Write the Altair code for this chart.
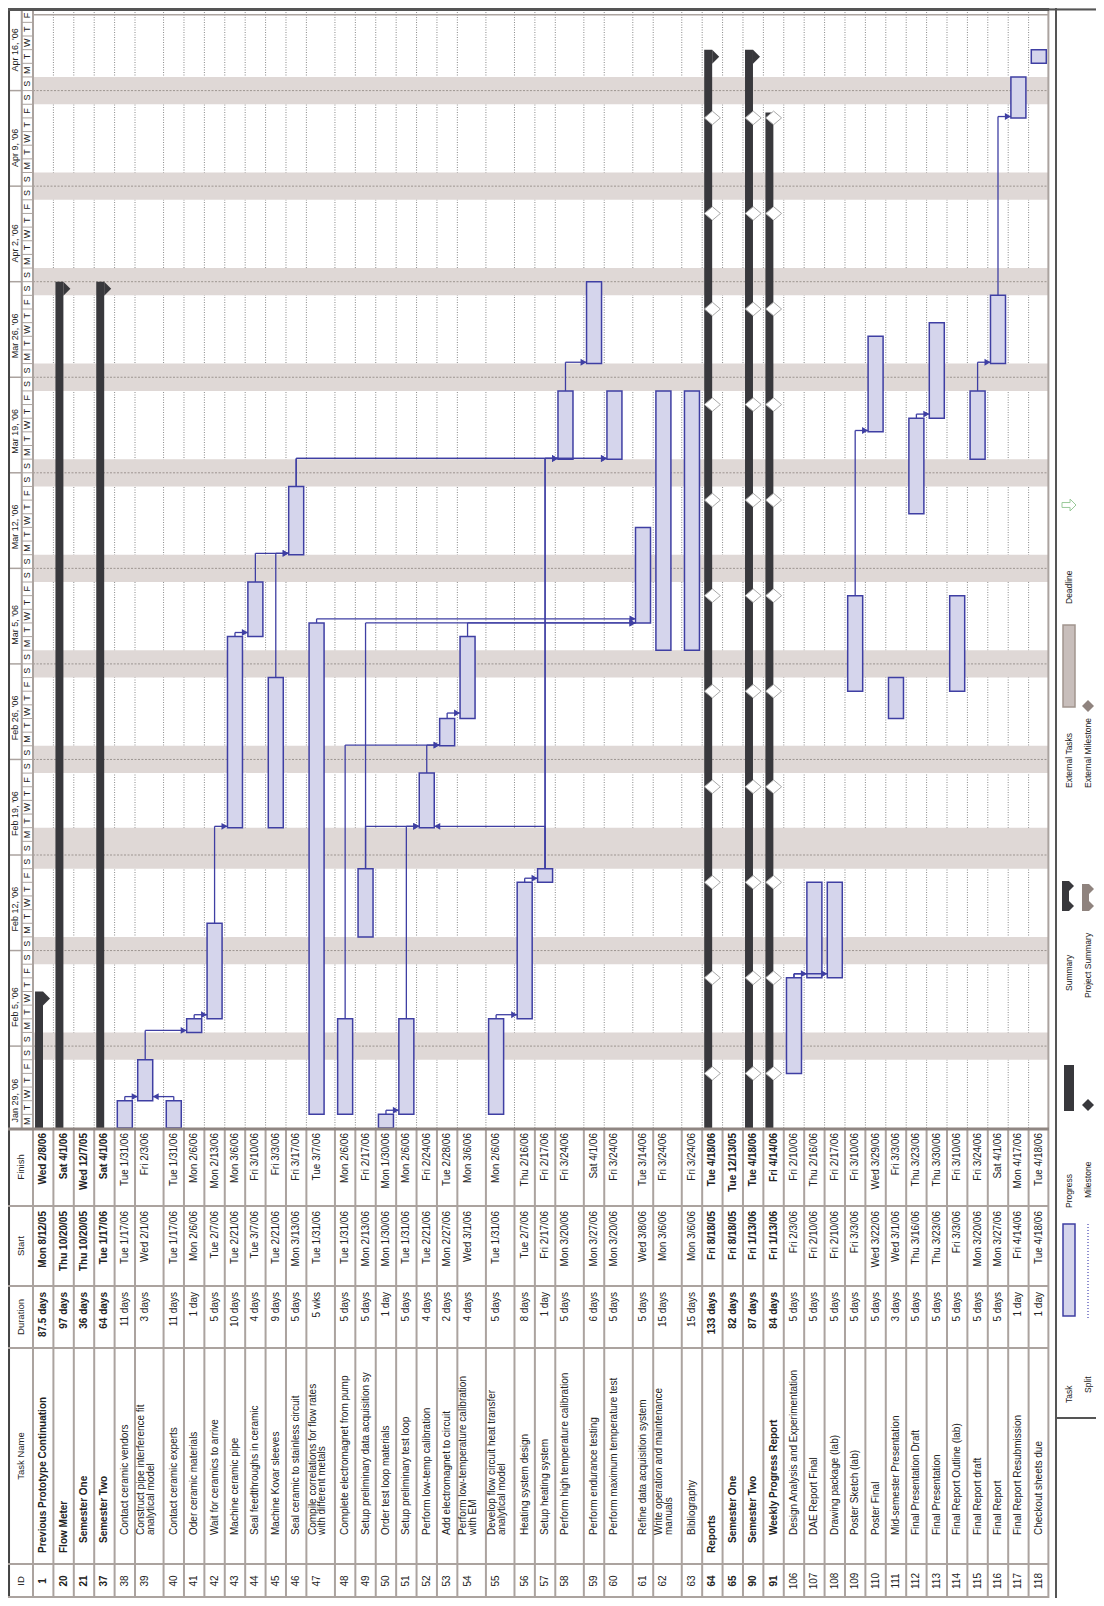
import altair as alt
import pandas as pd

# ---------------- task table ----------------
ids = [1, 20, 21, 37, 38, 39, 40, 41, 42, 43, 44, 45, 46, 47, 48, 49, 50, 51, 52,
       53, 54, 55, 56, 57, 58, 59, 60, 61, 62, 63, 64, 65, 90, 91, 106, 107, 108,
       109, 110, 111, 112, 113, 114, 115, 116, 117, 118]
names = [
    "Previous Prototype Continuation", "Flow Meter", "Semester One", "Semester Two",
    "Contact ceramic vendors", "Construct pipe interference fit\nanalytical model",
    "Contact ceramic experts", "Oder ceramic materials", "Wait for ceramics to arrive",
    "Machine ceramic pipe", "Seal feedthroughs in ceramic", "Machine Kovar sleeves",
    "Seal ceramic to stainless circuit",
    "Compile correlations for flow rates\nwith different metals",
    "Complete electromagnet from pump", "Setup preliminary data acquisition sy",
    "Order test loop materials", "Setup preliminary test loop",
    "Perform low-temp calibration", "Add electromagnet to circuit",
    "Perform low-temperature calibration\nwith EM",
    "Develop flow circuit heat transfer\nanalytical model",
    "Heating system design", "Setup heating system",
    "Perform high temperature calibration", "Perform endurance testing",
    "Perform maximum temperature test", "Refine data acquisition system",
    "Write operation and maintenance\nmanuals", "Bibliography", "Reports",
    "Semester One", "Semester Two", "Weekly Progress Report",
    "Design Analysis and Experimentation", "DAE Report Final", "Drawing package (lab)",
    "Poster Sketch (lab)", "Poster Final", "Mid-semester Presentation",
    "Final Presentation Draft", "Final Presentation", "Final Report Outline (lab)",
    "Final Report draft", "Final Report", "Final Report Resubmission",
    "Checkout sheets due"]
durations = [
    "87.5 days", "97 days", "36 days", "64 days",
    "11 days", "3 days", "11 days", "1 day", "5 days", "10 days", "4 days", "9 days",
    "5 days", "5 wks", "5 days", "5 days", "1 day", "5 days", "4 days", "2 days",
    "4 days", "5 days", "8 days", "1 day", "5 days", "6 days", "5 days", "5 days",
    "15 days", "15 days",
    "133 days", "82 days", "87 days", "84 days",
    "5 days", "5 days", "5 days", "5 days", "5 days", "3 days", "5 days", "5 days",
    "5 days", "5 days", "5 days", "1 day", "1 day"]
starts = [
    "Mon 8/12/05", "Thu 10/20/05", "Thu 10/20/05", "Tue 1/17/06",
    "Tue 1/17/06", "Wed 2/1/06", "Tue 1/17/06", "Mon 2/6/06", "Tue 2/7/06",
    "Tue 2/21/06", "Tue 3/7/06", "Tue 2/21/06", "Mon 3/13/06", "Tue 1/31/06",
    "Tue 1/31/06", "Mon 2/13/06", "Mon 1/30/06", "Tue 1/31/06", "Tue 2/21/06",
    "Mon 2/27/06", "Wed 3/1/06", "Tue 1/31/06", "Tue 2/7/06", "Fri 2/17/06",
    "Mon 3/20/06", "Mon 3/27/06", "Mon 3/20/06", "Wed 3/8/06", "Mon 3/6/06",
    "Mon 3/6/06",
    "Fri 8/18/05", "Fri 8/18/05", "Fri 1/13/06", "Fri 1/13/06",
    "Fri 2/3/06", "Fri 2/10/06", "Fri 2/10/06", "Fri 3/3/06", "Wed 3/22/06",
    "Wed 3/1/06", "Thu 3/16/06", "Thu 3/23/06", "Fri 3/3/06", "Mon 3/20/06",
    "Mon 3/27/06", "Fri 4/14/06", "Tue 4/18/06"]
finishes = [
    "Wed 2/8/06", "Sat 4/1/06", "Wed 12/7/05", "Sat 4/1/06",
    "Tue 1/31/06", "Fri 2/3/06", "Tue 1/31/06", "Mon 2/6/06", "Mon 2/13/06",
    "Mon 3/6/06", "Fri 3/10/06", "Fri 3/3/06", "Fri 3/17/06", "Tue 3/7/06",
    "Mon 2/6/06", "Fri 2/17/06", "Mon 1/30/06", "Mon 2/6/06", "Fri 2/24/06",
    "Tue 2/28/06", "Mon 3/6/06", "Mon 2/6/06", "Thu 2/16/06", "Fri 2/17/06",
    "Fri 3/24/06", "Sat 4/1/06", "Fri 3/24/06", "Tue 3/14/06", "Fri 3/24/06",
    "Fri 3/24/06",
    "Tue 4/18/06", "Tue 12/13/05", "Tue 4/18/06", "Fri 4/14/06",
    "Fri 2/10/06", "Thu 2/16/06", "Fri 2/17/06", "Fri 3/10/06", "Wed 3/29/06",
    "Fri 3/3/06", "Thu 3/23/06", "Thu 3/30/06", "Fri 3/10/06", "Fri 3/24/06",
    "Sat 4/1/06", "Mon 4/17/06", "Tue 4/18/06"]
levels = [1, 1, 2, 2] + [3] * 26 + [1, 2, 2, 3] + [3] * 13
summary_ids = [1, 20, 21, 37, 64, 65, 90, 91]
capped_ids = [1, 20, 37, 64, 90]
double_rows = [39, 47, 54, 55, 58, 60, 62]

# bar extents, in days after Mon Jan 30 2006
bar_start = [-171, -102, -102, -13,
             -13, 2, -13, 7, 8, 22, 36, 22, 42, 1, 1, 14, 0, 1, 22, 28, 30, 1, 8, 18,
             49, 56, 49, 37, 35, 35,
             -165, -165, -17, -17,
             4, 11, 11, 32, 51, 30, 45, 52, 32, 49, 56, 74, 78]
bar_end = [10, 62, -53, 62,
           2, 5, 2, 8, 15, 36, 40, 33, 47, 37, 8, 19, 1, 8, 26, 30, 36, 8, 18, 19,
           54, 62, 54, 44, 54, 54,
           79, -47, 79, 74.4,
           11, 18, 18, 39, 58, 33, 52, 59, 39, 54, 61, 77, 79]

# dependency links: predecessor, successor, day at which the connector runs
link_from = [38, 40, 39, 41, 42, 43, 44, 45, 46, 46, 57, 57, 58, 47, 49, 54, 48, 52,
             53, 51, 49, 57, 56, 55, 50, 106, 106, 109, 112, 115, 116]
link_to = [39, 39, 41, 42, 43, 44, 46, 46, 58, 60, 58, 60, 59, 61, 61, 61, 53, 53,
           54, 52, 52, 52, 57, 56, 51, 107, 108, 110, 113, 116, 117]
link_level = [2.3, 2.3, 7.15, 8.3, 22.1, 36.3, 42.1, 42.1, 49.05, 49.05, 49.05, 49.05,
              56.1, 37.3, 37.0, 37.0, 28.05, 28.05, 30.4, 22.1, 22.1, 22.1, 18.3, 8.3,
              1.3, 11.3, 11.3, 51.1, 52.3, 56.1, 74.1]

# rolled-up weekly report milestones
milestone_rows = [64, 90, 91]
milestone_days = [4, 11, 18, 25, 32, 39, 46, 53, 60, 67, 74]

# timescale
week_labels = ["Jan 29, '06", "Feb 5, '06", "Feb 12, '06", "Feb 19, '06", "Feb 26, '06",
               "Mar 5, '06", "Mar 12, '06", "Mar 19, '06", "Mar 26, '06", "Apr 2, '06",
               "Apr 9, '06", "Apr 16, '06"]
week_days = [-1, 6, 13, 20, 27, 34, 41, 48, 55, 62, 69, 76]
weekend_start = [5, 12, 19, 26, 33, 40, 47, 54, 61, 68, 75]
weekend_end = [7, 14, 22, 28, 35, 42, 49, 56, 63, 70, 77]
day_letters = ["M", "T", "W", "T", "F", "S", "S"]

# legend
legend_col1 = ["Task", "Progress", "Summary", "External Tasks", "Deadline"]
legend_col2 = ["Split", "Milestone", "Project Summary", "External Milestone"]

# ---------------- layout / style ----------------
FONT = "Liberation Sans"
TXT = "#222222"
GRID = "#aba39f"
BAND = "#dfd8d6"
BLUE = "#3f3fa3"
TASKFILL = "#d5d5ec"
DARK = "#38383c"
BROWN = "#8f837e"
SINGLE, DOUBLE = 1.0, 1.4
PX_UNIT = 20.4
DAY_PX = 13.65
HDR = 25 / PX_UNIT
GH = 1120
TH = 470
LW = 41
GAP = 6
HALF = 7.5 / PX_UNIT

row_start = {}
acc = 0.0
for rid in ids:
    row_start[rid] = acc
    acc += DOUBLE if rid in double_rows else SINGLE
U = acc
GW = round((U + HDR) * PX_UNIT)
W = GW + GAP + LW
H = GH + TH
LH = H
TOP_DAY = GH / DAY_PX
center = {rid: row_start[rid] + 0.5 for rid in ids}
idx = {rid: i for i, rid in enumerate(ids)}

rows = pd.DataFrame({"id": ids, "name": names, "dur": durations, "start": starts,
                     "finish": finishes, "level": levels, "bs": bar_start, "be": bar_end})
rows["rs"] = [row_start[i] for i in ids]
rows["rc"] = rows["rs"] + 0.5
rows["bold"] = rows["id"].isin(summary_ids)
rows["idtxt"] = rows["id"].astype(str)

XS = alt.Scale(domain=[-HDR, U], range=[0, GW], nice=False, zero=False)
YS = alt.Scale(domain=[0, TOP_DAY], range=[GH, 0], nice=False, zero=False, clamp=True)
TS = alt.Scale(domain=[0, TH], range=[GH, GH + TH], nice=False, zero=False)
LXS = alt.Scale(domain=[0, LW], range=[GW + GAP, W], nice=False, zero=False)
LYS = alt.Scale(domain=[0, LH], range=[0, LH], nice=False, zero=False)


def gx(f):
    return alt.X(f, type="quantitative", scale=XS, axis=None)


def gy(f):
    return alt.Y(f, type="quantitative", scale=YS, axis=None)


def ty(f):
    return alt.Y(f, type="quantitative", scale=TS, axis=None)


def lx(f):
    return alt.X(f, type="quantitative", scale=LXS, axis=None)


def ly(f):
    return alt.Y(f, type="quantitative", scale=LYS, axis=None)


# ---------------- Gantt panel ----------------
g = []
bounds = pd.DataFrame({"x": [row_start[i] for i in ids[1:]], "y": 0.0, "y2": TOP_DAY})
g.append(alt.Chart(bounds).mark_rule(color="#8a8a8a", strokeWidth=1, strokeDash=[1, 1.5])
         .encode(x=gx("x"), y=gy("y"), y2=alt.Y2("y2")))

bands = pd.DataFrame({"y": weekend_start, "y2": weekend_end, "x": 0.0, "x2": U})
g.append(alt.Chart(bands).mark_rect(color=BAND).encode(
    x=gx("x"), x2=alt.X2("x2"), y=gy("y"), y2=alt.Y2("y2")))

wk = pd.DataFrame({"y": week_days[1:], "x": 0.0, "x2": U})
g.append(alt.Chart(wk).mark_rule(color="#9d9591", strokeWidth=1, strokeDash=[2, 1.5])
         .encode(x=gx("x"), x2=alt.X2("x2"), y=gy("y")))

summ = rows[rows["id"].isin(summary_ids) & (rows["be"] > 0)].copy()
summ["x"] = summ["rs"] + 0.1
summ["x2"] = summ["rs"] + 0.49
g.append(alt.Chart(summ).mark_rect(color=DARK).encode(
    x=gx("x"), x2=alt.X2("x2"), y=gy("bs"), y2=alt.Y2("be")))

caps = rows[rows["id"].isin(capped_ids)].copy()
caps["x"] = caps["rs"] + 0.49
g.append(alt.Chart(caps).mark_point(shape="M0,0L0,2L1,1Z", size=196, filled=True,
                                    color=DARK, opacity=1, strokeWidth=0)
         .encode(x=gx("x"), y=gy("be")))

tasks = rows[~rows["id"].isin(summary_ids)].copy()
tasks["x"] = tasks["rc"] - HALF
tasks["x2"] = tasks["rc"] + HALF
g.append(alt.Chart(tasks).mark_rect(fill=TASKFILL, stroke=BLUE, strokeWidth=1.5)
         .encode(x=gx("x"), x2=alt.X2("x2"), y=gy("bs"), y2=alt.Y2("be")))

seg_v, seg_h, arr_r, arr_l = [], [], [], []
for a, b, lv in zip(link_from, link_to, link_level):
    ca, cb = center[a], center[b]
    seg_v.append({"x": ca, "y": bar_end[idx[a]], "y2": lv})
    if idx[b] > idx[a]:
        edge = cb - HALF
        arr_r.append({"x": edge, "y": lv})
    else:
        edge = cb + HALF
        arr_l.append({"x": edge, "y": lv})
    seg_h.append({"x": ca, "x2": edge, "y": lv})
g.append(alt.Chart(pd.DataFrame(seg_v)).mark_rule(color=BLUE, strokeWidth=1.3)
         .encode(x=gx("x"), y=gy("y"), y2=alt.Y2("y2")))
g.append(alt.Chart(pd.DataFrame(seg_h)).mark_rule(color=BLUE, strokeWidth=1.3)
         .encode(x=gx("x"), x2=alt.X2("x2"), y=gy("y")))
g.append(alt.Chart(pd.DataFrame(arr_r)).mark_point(
    shape="M0,0L-2,-1.15L-2,1.15Z", size=36, filled=True, color=BLUE, opacity=1,
    strokeWidth=0).encode(x=gx("x"), y=gy("y")))
g.append(alt.Chart(pd.DataFrame(arr_l)).mark_point(
    shape="M0,0L2,-1.15L2,1.15Z", size=36, filled=True, color=BLUE, opacity=1,
    strokeWidth=0).encode(x=gx("x"), y=gy("y")))

dia = pd.DataFrame([{"x": center[r], "y": d} for r in milestone_rows for d in milestone_days])
g.append(alt.Chart(dia).mark_point(shape="M-1,0L0,-0.85L1,0L0,0.85Z", size=256,
                                   filled=True, fill="white", stroke="#a8a8a8",
                                   strokeWidth=1, opacity=1)
         .encode(x=gx("x"), y=gy("y")))

# timescale header (left column)
TIER = -0.55
days = list(range(0, 82))
dl = pd.DataFrame({"y": [d + 0.5 for d in days], "t": [day_letters[d % 7] for d in days],
                   "x": TIER / 2})
g.append(alt.Chart(dl).mark_text(angle=270, align="center", baseline="middle",
                                 fontSize=9, color=TXT)
         .encode(x=gx("x"), y=gy("y"), text="t:N"))
dline = pd.DataFrame({"y": days[1:], "x": TIER, "x2": 0.0})
g.append(alt.Chart(dline).mark_rule(color=GRID, strokeWidth=1).encode(
    x=gx("x"), x2=alt.X2("x2"), y=gy("y")))
wl = pd.DataFrame({"y": [d + 1.4 for d in week_days], "t": week_labels,
                   "x": (-HDR + TIER) / 2})
g.append(alt.Chart(wl).mark_text(angle=270, align="left", baseline="middle",
                                 fontSize=9, color=TXT)
         .encode(x=gx("x"), y=gy("y"), text="t:N"))
wline = pd.DataFrame({"y": week_days[1:], "x": -HDR, "x2": TIER})
g.append(alt.Chart(wline).mark_rule(color=GRID, strokeWidth=1.5).encode(
    x=gx("x"), x2=alt.X2("x2"), y=gy("y")))

vlines = pd.DataFrame({"x": [TIER, 0.0, U - 0.03], "y": 0.0, "y2": TOP_DAY})
g.append(alt.Chart(vlines).mark_rule(color=GRID, strokeWidth=2)
         .encode(x=gx("x"), y=gy("y"), y2=alt.Y2("y2")))
g.append(alt.Chart(pd.DataFrame({"x": [-HDR + 0.05], "y": [0.0], "y2": [TOP_DAY]}))
         .mark_rule(color="#444", strokeWidth=2)
         .encode(x=gx("x"), y=gy("y"), y2=alt.Y2("y2")))
g.append(alt.Chart(pd.DataFrame({"y": [TOP_DAY - 0.11], "x": [-HDR], "x2": [U]}))
         .mark_rule(color="#555", strokeWidth=3).encode(x=gx("x"), x2=alt.X2("x2"), y=gy("y")))
g.append(alt.Chart(pd.DataFrame({"y": [TOP_DAY - 0.5], "x": [0.0], "x2": [U]}))
         .mark_rule(color=GRID, strokeWidth=1.5).encode(x=gx("x"), x2=alt.X2("x2"), y=gy("y")))

gantt = alt.layer(*g)

# ---------------- table panel ----------------
t = []
tb = pd.DataFrame({"x": [row_start[i] for i in ids] + [U - 0.03], "y": 0.0, "y2": TH})
t.append(alt.Chart(tb).mark_rule(color=GRID, strokeWidth=2)
         .encode(x=gx("x"), y=ty("y"), y2=alt.Y2("y2")))
t.append(alt.Chart(pd.DataFrame({"x": [-HDR + 0.05], "y": [0.0], "y2": [TH]}))
         .mark_rule(color="#444", strokeWidth=2)
         .encode(x=gx("x"), y=ty("y"), y2=alt.Y2("y2")))
cl = pd.DataFrame({"y": [78, 158, 220, 436, TH - 1], "x": -HDR, "x2": U})
t.append(alt.Chart(cl).mark_rule(color=GRID, strokeWidth=2).encode(
    x=gx("x"), x2=alt.X2("x2"), y=ty("y")))
t.append(alt.Chart(pd.DataFrame({"y": [1], "x": [-HDR], "x2": [U]})).mark_rule(
    color="#8f8682", strokeWidth=3).encode(x=gx("x"), x2=alt.X2("x2"), y=ty("y")))

heads = pd.DataFrame({"t": ["Finish", "Start", "Duration", "Task Name", "ID"],
                      "y": [39, 118, 189, 328, 453], "x": -0.6})
t.append(alt.Chart(heads).mark_text(angle=270, align="center", baseline="middle",
                                    fontSize=9.5, color=TXT)
         .encode(x=gx("x"), y=ty("y"), text="t:N"))

for is_bold in [False, True]:
    sub = rows[rows["bold"] == is_bold].copy()
    wt = "bold" if is_bold else "normal"
    for col, yv in [("finish", 5), ("start", 83), ("dur", 164)]:
        d = sub[["rc", col]].rename(columns={col: "t"}).copy()
        d["y"] = yv
        t.append(alt.Chart(d).mark_text(angle=270, align="right", baseline="middle",
                                        fontSize=10, color=TXT, fontWeight=wt)
                 .encode(x=gx("rc"), y=ty("y"), text="t:N"))
    d = sub[["rc", "idtxt"]].rename(columns={"idtxt": "t"}).copy()
    d["y"] = 453
    t.append(alt.Chart(d).mark_text(angle=270, align="center", baseline="middle",
                                    fontSize=10, color=TXT, fontWeight=wt)
             .encode(x=gx("rc"), y=ty("y"), text="t:N"))
    nl = []
    for _, r in sub.iterrows():
        parts = r["name"].split("\n")
        ystart = {1: 425, 2: 415, 3: 407}[r["level"]]
        if len(parts) == 1:
            nl.append({"x": r["rc"], "t": parts[0], "y": ystart})
        else:
            nl.append({"x": r["rs"] + 0.3, "t": parts[0], "y": ystart})
            nl.append({"x": r["rs"] + 0.78, "t": parts[1], "y": ystart})
    t.append(alt.Chart(pd.DataFrame(nl)).mark_text(
        angle=270, align="left", baseline="middle", fontSize=10, color=TXT,
        fontWeight=wt, limit=186, ellipsis="")
        .encode(x=gx("x"), y=ty("y"), text="t:N"))

table = alt.layer(*t)

# ---------------- legend panel ----------------
OFF = 8
C1, C2 = 14, 33
lab = pd.DataFrame({"t": legend_col1 + legend_col2,
                    "x": [C1] * 5 + [C2] * 4,
                    "y": [1403 - OFF, 1208 - OFF, 991 - OFF, 788 - OFF, 604 - OFF,
                          1393 - OFF, 1198 - OFF, 998 - OFF, 788 - OFF]})
L = []
L.append(alt.Chart(pd.DataFrame({"x": [1], "y": [0], "y2": [LH]}))
         .mark_rule(color="#555", strokeWidth=2)
         .encode(x=lx("x"), y=ly("y"), y2=alt.Y2("y2")))
L.append(alt.Chart(pd.DataFrame({"y": [1418 - OFF, 1.5], "x": [0, -GAP - 1], "x2": [LW, LW]}))
         .mark_rule(color="#555", strokeWidth=2)
         .encode(y=ly("y"), x=lx("x"), x2=alt.X2("x2")))
L.append(alt.Chart(lab).mark_text(angle=270, align="left", baseline="middle",
                                  fontSize=8.5, color=TXT)
         .encode(x=lx("x"), y=ly("y"), text="t:N"))
# task swatch
L.append(alt.Chart(pd.DataFrame({"x": [8], "x2": [20], "y": [1224 - OFF], "y2": [1316 - OFF]}))
         .mark_rect(fill=TASKFILL, stroke=BLUE, strokeWidth=1.5)
         .encode(x=lx("x"), x2=alt.X2("x2"), y=ly("y"), y2=alt.Y2("y2")))
# split swatch
L.append(alt.Chart(pd.DataFrame({"x": [C2], "y": [1224 - OFF], "y2": [1320 - OFF]}))
         .mark_rule(color="#8f8fd0", strokeWidth=2, strokeDash=[1, 2])
         .encode(x=lx("x"), y=ly("y"), y2=alt.Y2("y2")))
# progress swatch
L.append(alt.Chart(pd.DataFrame({"x": [9], "x2": [19], "y": [1065 - OFF], "y2": [1111 - OFF]}))
         .mark_rect(color=DARK)
         .encode(x=lx("x"), x2=alt.X2("x2"), y=ly("y"), y2=alt.Y2("y2")))
# milestone + external milestone
L.append(alt.Chart(pd.DataFrame({"x": [C2], "y": [1105 - OFF]}))
         .mark_point(shape="M-1,0L0,-1L1,0L0,1Z", size=144, filled=True, color=DARK,
                     opacity=1, strokeWidth=0).encode(x=lx("x"), y=ly("y")))
L.append(alt.Chart(pd.DataFrame({"x": [C2], "y": [706 - OFF]}))
         .mark_point(shape="M-1,0L0,-1L1,0L0,1Z", size=144, filled=True, color=BROWN,
                     opacity=1, strokeWidth=0).encode(x=lx("x"), y=ly("y")))
# summary + project summary swatches
for x0, colr, y0, y1 in [(7, DARK, 881, 911), (27, BROWN, 884, 911)]:
    L.append(alt.Chart(pd.DataFrame({"x": [x0], "x2": [x0 + 7], "y": [y0 - OFF],
                                     "y2": [y1 - OFF]}))
             .mark_rect(color=colr)
             .encode(x=lx("x"), x2=alt.X2("x2"), y=ly("y"), y2=alt.Y2("y2")))
    L.append(alt.Chart(pd.DataFrame({"x": [x0 + 7], "y": [y0 - OFF]}))
             .mark_point(shape="M0,0L0,2L1,1Z", size=100, filled=True, color=colr,
                         opacity=1, strokeWidth=0).encode(x=lx("x"), y=ly("y")))
    L.append(alt.Chart(pd.DataFrame({"x": [x0 + 7], "y": [y1 - OFF]}))
             .mark_point(shape="M0,0L0,-2L1,-1Z", size=100, filled=True, color=colr,
                         opacity=1, strokeWidth=0).encode(x=lx("x"), y=ly("y")))
# external tasks swatch
L.append(alt.Chart(pd.DataFrame({"x": [8], "x2": [20], "y": [625 - OFF], "y2": [707 - OFF]}))
         .mark_rect(fill="#c8bebb", stroke="#a1958f", strokeWidth=1.5)
         .encode(x=lx("x"), x2=alt.X2("x2"), y=ly("y"), y2=alt.Y2("y2")))
# deadline arrow
L.append(alt.Chart(pd.DataFrame({"x": [C1], "y": [505 - OFF]}))
         .mark_point(shape="M-1,-0.35L0.15,-0.35L0.15,-0.85L1,0L0.15,0.85L0.15,0.35L-1,0.35Z",
                     size=196, filled=True, fill="white", stroke="#99c999",
                     strokeWidth=1, opacity=1).encode(x=lx("x"), y=ly("y")))

legend = alt.layer(*L)

chart = alt.layer(gantt, table, legend).resolve_scale(
    x="independent", y="independent"
).properties(
    width=W, height=H, padding=0, background="white",
    autosize=alt.AutoSizeParams(type="none")
).configure_view(strokeWidth=0).configure(font=FONT)

chart.save("out.html", embed_options={"renderer": "svg", "actions": False})
